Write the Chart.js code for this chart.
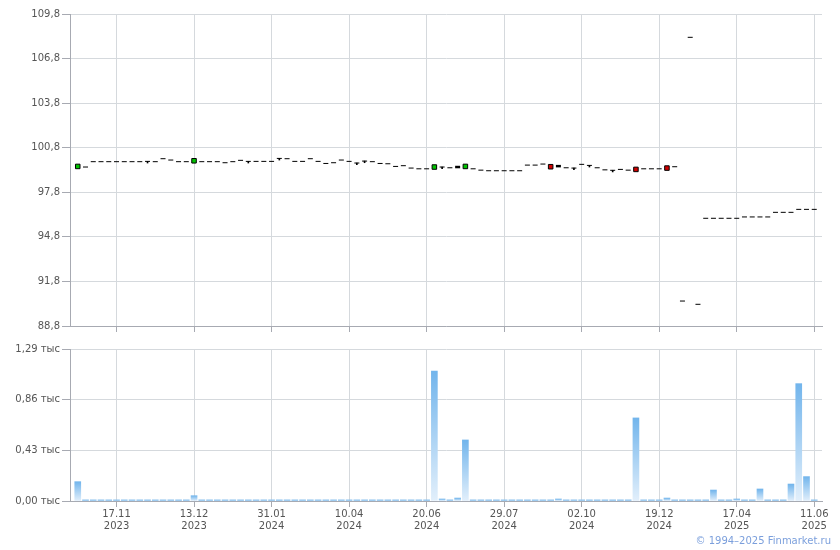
<!DOCTYPE html>
<html>
<head>
<meta charset="utf-8">
<script src="https://cdn.jsdelivr.net/npm/chart.js@4"></script>
<style>
  body { margin: 0; background: #fff; }
  #wrap { position: relative; width: 840px; height: 550px; }
  #price-box { position: absolute; left: 0; top: 0; width: 840px; height: 340px; }
  #vol-box { position: absolute; left: 0; top: 335px; width: 840px; height: 215px; }
  #copy { position: absolute; right: 9px; top: 535px; font: 10px "DejaVu Sans", sans-serif; color: #7b9fdc; }
</style>
</head>
<body>
<div id="wrap">
  <div id="price-box"><canvas id="price-chart" width="840" height="340"></canvas></div>
  <div id="vol-box"><canvas id="vol-chart" width="840" height="215"></canvas></div>
  <div id="copy">© 1994–2025 Finmarket.ru</div>
</div>
<script>
// Data (x = trade number, 0..95)
const closePrice = [
  99.54, 99.50, 99.86, 99.86, 99.86, 99.86, 99.86, 99.86, 99.86, 99.88,
  99.86, 100.06, 99.97, 99.86, 99.86, 99.92, 99.86, 99.86, 99.86, 99.79,
  99.86, 99.95, 99.88, 99.88, 99.88, 99.88, 100.08, 100.06, 99.88, 99.88,
  100.06, 99.88, 99.74, 99.79, 99.97, 99.88, 99.77, 99.90, 99.86, 99.74,
  99.72, 99.54, 99.59, 99.43, 99.38, 99.38, 99.50, 99.50, 99.45, 99.50,
  99.54, 99.38, 99.29, 99.25, 99.25, 99.25, 99.25, 99.25, 99.63, 99.63,
  99.70, 99.52, 99.56, 99.45, 99.43, 99.68, 99.61, 99.45, 99.31, 99.28,
  99.34, 99.29, 99.34, 99.38, 99.38, 99.38, 99.43, 99.52, 90.48, 108.23,
  90.26, 96.05, 96.05, 96.05, 96.05, 96.05, 96.14, 96.14, 96.14, 96.14,
  96.45, 96.45, 96.45, 96.65, 96.65, 96.65
];
const upCandles = [0, 15, 46, 50];
const downCandles = [61, 72, 76];
const flatCandles = [49, 62];
const wickIdx = [9, 22, 26, 36, 37, 47, 64, 66, 69];
const wickLow = [99.77, 99.77, 99.97, 99.66, 99.79, 99.39, 99.32, 99.50, 99.17];

const volume = [
  164, 10, 10, 10, 10, 10, 10, 10, 10, 10,
  10, 10, 10, 10, 10, 45, 10, 10, 10, 10,
  10, 10, 10, 10, 10, 10, 10, 10, 10, 10,
  10, 10, 10, 10, 10, 10, 10, 10, 10, 10,
  10, 10, 10, 10, 10, 10, 1103, 17, 10, 25,
  518, 10, 10, 10, 10, 10, 10, 10, 10, 10,
  10, 10, 17, 10, 10, 10, 10, 10, 10, 10,
  10, 10, 705, 10, 10, 10, 25, 10, 10, 10,
  10, 10, 93, 10, 10, 17, 10, 10, 102, 10,
  10, 10, 144, 996, 207, 10
];

const tickIdx = [5, 15, 25, 35, 45, 55, 65, 75, 85, 95];
const tickDay = ['17.11', '13.12', '31.01', '10.04', '20.06', '29.07', '02.10', '19.12', '17.04', '11.06'];
const tickYear = ['2023', '2023', '2024', '2024', '2024', '2024', '2024', '2024', '2025', '2025'];
const priceTicks = [88.8, 91.8, 94.8, 97.8, 100.8, 103.8, 106.8, 109.8];
const volTicks = [0, 430, 860, 1290];

const gridColor = '#d5d9dd';
const axisColor = '#a7aab2';
const textColor = '#555';
const font = { family: 'DejaVu Sans', size: 10 };

function xScale(showLabels, height) {
  return {
    type: 'linear',
    offset: false,
    min: -1,
    max: 96,
    afterBuildTicks: (s) => { s.ticks = tickIdx.map(v => ({ value: v })); },
    afterFit: (s) => { s.height = height; },
    grid: { color: gridColor, tickColor: axisColor, tickLength: 6, offset: false },
    border: { color: axisColor },
    ticks: {
      display: showLabels,
      maxRotation: 0,
      autoSkip: false,
      padding: 1,
      color: textColor,
      font: font,
      callback: (v) => {
        const k = tickIdx.indexOf(v);
        return k >= 0 ? [tickDay[k], tickYear[k]] : '';
      }
    }
  };
}

function yScale(min, max, values, fmt) {
  return {
    min: min,
    max: max,
    afterBuildTicks: (s) => { s.ticks = values.map(v => ({ value: v })); },
    afterFit: (s) => { s.width = 70; },
    grid: { color: gridColor, tickColor: axisColor, tickLength: 8 },
    border: { color: axisColor },
    ticks: { color: textColor, font: font, padding: 2, callback: fmt }
  };
}

// per-point style of the price marks
const pointStyles = closePrice.map((v, i) =>
  upCandles.includes(i) || downCandles.includes(i) ? 'rect' : 'line');
const pointFill = closePrice.map((v, i) =>
  upCandles.includes(i) ? '#00c400' : downCandles.includes(i) ? '#d00000' : '#000');
const pointRadius = closePrice.map((v, i) =>
  upCandles.includes(i) || downCandles.includes(i) ? 3.2 : 2.5);
const pointBorder = closePrice.map((v, i) => flatCandles.includes(i) ? 2.5 : 1);

new Chart(document.getElementById('price-chart'), {
  type: 'bar',
  data: {
    datasets: [
      {
        type: 'scatter',
        order: 0,
        data: closePrice.map((v, i) => ({ x: i, y: v })),
        pointStyle: pointStyles,
        pointRadius: pointRadius,
        pointBorderWidth: pointBorder,
        pointBackgroundColor: pointFill,
        pointBorderColor: '#000'
      },
      {
        type: 'bar',
        order: 1,
        data: wickIdx.map((x, k) => ({ x: x, y: [wickLow[k], closePrice[x]] })),
        backgroundColor: '#000',
        barThickness: 1,
        grouped: false
      }
    ]
  },
  options: {
    responsive: false,
    animation: false,
    events: [],
    layout: { padding: { top: 14, right: 18, left: 0, bottom: 0 } },
    plugins: { legend: { display: false }, tooltip: { enabled: false } },
    scales: {
      x: xScale(false, 14),
      y: yScale(88.8, 109.8, priceTicks, (v) => v.toFixed(1).replace('.', ','))
    }
  }
});

function volGradient(ctx) {
  const chart = ctx.chart;
  if (!chart.chartArea || ctx.parsed === undefined) return '#8cc2ee';
  const y = chart.scales.y;
  const top = y.getPixelForValue(ctx.parsed.y);
  const base = y.getPixelForValue(0);
  if (base - top < 2) return '#8cc2ee';
  const g = chart.ctx.createLinearGradient(0, top, 0, base);
  g.addColorStop(0, '#72b5ec');
  g.addColorStop(1, '#e2effb');
  return g;
}

new Chart(document.getElementById('vol-chart'), {
  type: 'bar',
  data: {
    datasets: [{
      data: volume.map((v, i) => ({ x: i, y: v })),
      backgroundColor: volGradient,
      barThickness: 6
    }]
  },
  options: {
    responsive: false,
    animation: false,
    events: [],
    layout: { padding: { top: 14, right: 18, left: 0, bottom: 0 } },
    plugins: { legend: { display: false }, tooltip: { enabled: false } },
    scales: {
      x: xScale(true, 49),
      y: yScale(0, 1290, volTicks, (v) => (v / 1000).toFixed(2).replace('.', ',') + ' тыс')
    }
  }
});
</script>
</body>
</html>
